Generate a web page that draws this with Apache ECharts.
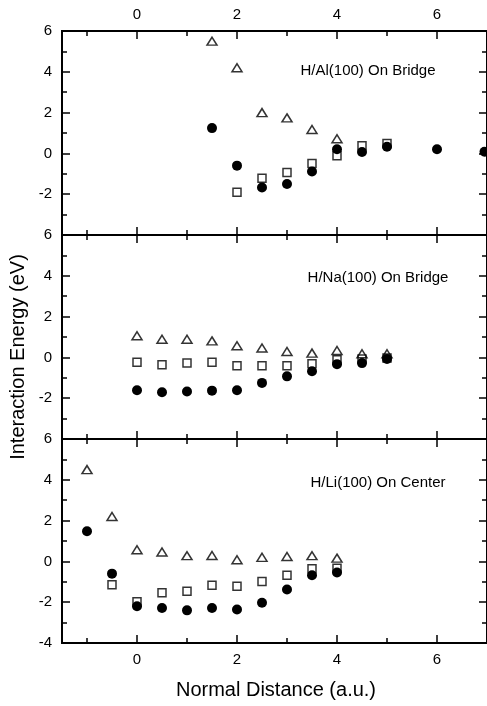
<!DOCTYPE html>
<html><head><meta charset="utf-8">
<script src="https://cdn.jsdelivr.net/npm/echarts@6/dist/echarts.min.js"></script>
<style>html,body{margin:0;padding:0;background:#fff;}#c{width:487px;height:706px;}</style>
</head><body><div id="c"></div>
<script>
// ---- data ----
const xTickMajor = [0, 2, 4, 6];
const xTickMinor = [-1, 1, 3, 5, 7];
const panelTitles = ['H/Al(100) On Bridge', 'H/Na(100) On Bridge', 'H/Li(100) On Center'];

// H/Al(100) On Bridge
const alTriX = [1.5, 2, 2.5, 3, 3.5, 4];
const alTriY = [5.5, 4.2, 2.0, 1.74, 1.17, 0.72];
const alSqX = [2, 2.5, 3, 3.5, 4, 4.5, 5];
const alSqY = [-1.9, -1.22, -0.94, -0.49, -0.11, 0.37, 0.49];
const alCirX = [1.5, 2, 2.5, 3, 3.5, 4, 4.5, 5, 6, 6.95];
const alCirY = [1.24, -0.6, -1.67, -1.5, -0.89, 0.2, 0.07, 0.33, 0.2, 0.08];

// H/Na(100) On Bridge
const naX = [0, 0.5, 1, 1.5, 2, 2.5, 3, 3.5, 4, 4.5, 5];
const naTriY = [1.06, 0.89, 0.89, 0.81, 0.57, 0.46, 0.29, 0.21, 0.34, 0.18, 0.18];
const naSqY = [-0.24, -0.36, -0.28, -0.24, -0.41, -0.41, -0.41, -0.31, -0.11, -0.08, -0.03];
const naCirY = [-1.61, -1.71, -1.67, -1.63, -1.61, -1.25, -0.93, -0.68, -0.33, -0.28, -0.08];

// H/Li(100) On Center
const liX = [-1, -0.5, 0, 0.5, 1, 1.5, 2, 2.5, 3, 3.5, 4];
const liTriY = [4.5, 2.2, 0.57, 0.46, 0.28, 0.29, 0.08, 0.2, 0.24, 0.28, 0.16];
const liCirY = [1.48, -0.6, -2.2, -2.28, -2.4, -2.28, -2.36, -2.03, -1.38, -0.68, -0.54];
const liSqX = [-0.5, 0, 0.5, 1, 1.5, 2, 2.5, 3, 3.5, 4];
const liSqY = [-1.14, -1.98, -1.54, -1.46, -1.17, -1.22, -0.98, -0.68, -0.36, -0.33];

// ---- chart ----
const FONT = '"Liberation Sans", Arial, sans-serif';
const zip = (xs, ys) => xs.map((x, i) => [x, ys[i]]);
const panels = [
  { tri: zip(alTriX, alTriY), sq: zip(alSqX, alSqY), cir: zip(alCirX, alCirY) },
  { tri: zip(naX, naTriY), sq: zip(naX, naSqY), cir: zip(naX, naCirY) },
  { tri: zip(liX, liTriY), sq: zip(liSqX, liSqY), cir: zip(liX, liCirY) }
];
const gridTops = [31, 235, 439];
const grids = gridTops.map(t => ({ left: 62, right: -3, top: t, height: 204 }));

const axisLine = { show: true, onZero: false, lineStyle: { color: '#000', width: 2 } };
const xAxes = [], yAxes = [], series = [];
panels.forEach((p, g) => {
  [['bottom', xTickMajor, 8, g === 2, 9], ['bottom', xTickMinor, 5, false, 9],
   ['top', xTickMajor, 8, g === 0, 9], ['top', xTickMinor, 5, false, 9]].forEach(([pos, vals, len, lab, mg]) => {
    xAxes.push({
      type: 'value', gridIndex: g, position: pos, min: -1.5, max: 7,
      axisLine: axisLine, splitLine: { show: false },
      axisTick: { show: true, inside: true, length: len, customValues: vals, lineStyle: { color: '#000', width: 1.5 } },
      axisLabel: { show: lab, customValues: vals, margin: mg, fontSize: 15, color: '#000', fontFamily: FONT }
    });
  });
  ['left', 'right'].forEach(pos => {
    yAxes.push({
      type: 'value', gridIndex: g, position: pos, min: -4, max: 6, interval: 2,
      axisLine: axisLine, splitLine: { show: false },
      axisTick: { show: true, inside: true, length: 8, lineStyle: { color: '#000', width: 1.5 } },
      minorTick: { show: true, splitNumber: 2, length: 5, lineStyle: { color: '#000', width: 1.5 } },
      axisLabel: {
        show: pos === 'left', margin: 10, fontSize: 15, color: '#000', fontFamily: FONT,
        formatter: v => (g < 2 && v === -4) ? '' : String(v)
      }
    });
  });
  const xi = g * 4, yi = g * 2;
  series.push({ type: 'scatter', xAxisIndex: xi, yAxisIndex: yi, data: p.tri, symbol: 'triangle', symbolSize: [10, 8],
    itemStyle: { color: 'rgba(255,255,255,0)', borderColor: '#000', borderWidth: 1.5 }, z: 3 });
  series.push({ type: 'scatter', xAxisIndex: xi, yAxisIndex: yi, data: p.sq, symbol: 'rect', symbolSize: 8,
    itemStyle: { color: 'rgba(255,255,255,0)', borderColor: '#000', borderWidth: 1.5 }, z: 3 });
  series.push({ type: 'scatter', xAxisIndex: xi, yAxisIndex: yi, data: p.cir, symbol: 'circle', symbolSize: 10,
    itemStyle: { color: '#000', opacity: 1 }, z: 4 });
});

const graphic = [
  { type: 'text', x: 368, y: 71, style: { text: panelTitles[0], font: '15px ' + FONT, fill: '#000', align: 'center', verticalAlign: 'middle' } },
  { type: 'text', x: 378, y: 278, style: { text: panelTitles[1], font: '15px ' + FONT, fill: '#000', align: 'center', verticalAlign: 'middle' } },
  { type: 'text', x: 378, y: 483, style: { text: panelTitles[2], font: '15px ' + FONT, fill: '#000', align: 'center', verticalAlign: 'middle' } },
  { type: 'text', x: 276, y: 690, style: { text: 'Normal Distance (a.u.)', font: '20px ' + FONT, fill: '#000', align: 'center', verticalAlign: 'middle' } },
  { type: 'text', x: 18, y: 357, rotation: Math.PI / 2, style: { text: 'Interaction Energy (eV)', font: '20px ' + FONT, fill: '#000', align: 'center', verticalAlign: 'middle' } }
];

const chart = echarts.init(document.getElementById('c'), null, { renderer: 'canvas' });
chart.setOption({
  animation: false, backgroundColor: '#fff',
  grid: grids, xAxis: xAxes, yAxis: yAxes, series: series, graphic: graphic
});
</script></body></html>
